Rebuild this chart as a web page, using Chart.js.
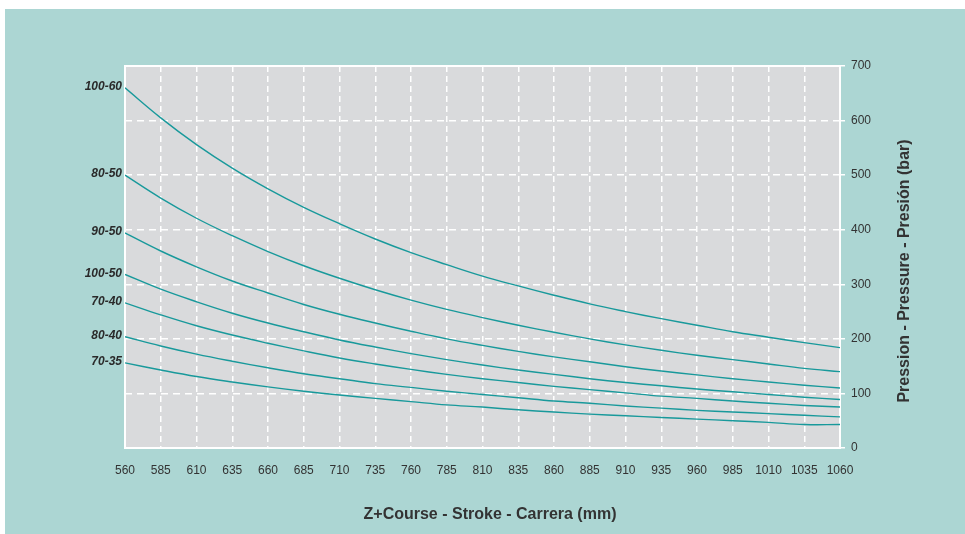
<!DOCTYPE html>
<html>
<head>
<meta charset="utf-8">
<script src="https://cdn.jsdelivr.net/npm/chart.js@4"></script>
<style>
  body { margin: 0; background: #fff; }
  #wrap { width: 965px; height: 534px; position: relative; }
</style>
</head>
<body>
<div id="wrap"><canvas id="canvas"></canvas></div>
<script>
// stroke (mm)
var strokes = [560, 585, 610, 635, 660, 685, 710, 735, 760, 785, 810, 835, 860, 885, 910, 935, 960, 985, 1010, 1035, 1060];

// pressure (bar) per cylinder
var p100_60 = [660, 605, 556, 513, 475, 441, 411, 383, 358, 336, 315, 297, 280, 264, 250, 237, 225, 213, 203, 193, 184];
var p80_50  = [500, 458, 421, 389, 360, 334, 311, 290, 271, 254, 239, 225, 212, 200, 189, 179, 170, 162, 154, 146, 140];
var p90_50  = [394, 361, 332, 306, 284, 263, 245, 229, 214, 200, 188, 177, 167, 158, 149, 141, 134, 127, 121, 115, 110];
var p100_50 = [318, 291, 268, 247, 229, 213, 198, 185, 173, 162, 152, 143, 135, 127, 120, 114, 108, 103, 98, 93, 89];
var p70_40  = [266, 244, 224, 207, 192, 178, 165, 154, 144, 135, 127, 120, 113, 107, 101, 95, 91, 86, 82, 78, 75];
var p80_40  = [204, 187, 172, 159, 147, 136, 127, 118, 111, 104, 98, 92, 86, 82, 77, 73, 69, 66, 63, 60, 57];
var p70_35  = [156, 143, 131, 121, 112, 104, 97, 91, 85, 79, 75, 70, 66, 62, 59, 56, 53, 50, 47, 43, 43];

var names = ['100-60', '80-50', '90-50', '100-50', '70-40', '80-40', '70-35'];
var series = [p100_60, p80_50, p90_50, p100_50, p70_40, p80_40, p70_35];

var yTicks = [0, 100, 200, 300, 400, 500, 600, 700];

var lineColor = '#18999b';
var txt = '#333333';
var fam = '"Liberation Sans", Arial, sans-serif';

var datasets = series.map(function(s, i) {
  return {
    label: names[i],
    data: s.map(function(v, j) { return { x: strokes[j], y: v }; }),
    borderColor: lineColor,
    borderWidth: 1.4,
    pointRadius: 0,
    tension: 0.4,
    fill: false
  };
});

var bgPlugin = {
  id: 'bg',
  beforeDraw: function(chart) {
    var ctx = chart.ctx, a = chart.chartArea;
    ctx.save();
    ctx.fillStyle = '#fff';
    ctx.fillRect(0, 0, chart.width, chart.height);
    ctx.fillStyle = '#acd6d3';
    ctx.fillRect(5, 9, chart.width - 5, chart.height - 9);
    ctx.fillStyle = '#d9dadc';
    ctx.fillRect(a.left, a.top, a.right - a.left, a.bottom - a.top);
    ctx.restore();
  },
  beforeDatasetsDraw: function(chart) {
    var ctx = chart.ctx, a = chart.chartArea;
    ctx.save();
    ctx.strokeStyle = '#fff';
    ctx.lineWidth = 2;
    ctx.strokeRect(a.left, a.top, a.right - a.left, a.bottom - a.top);
    ctx.restore();
  },
  afterDraw: function(chart) {
    var ctx = chart.ctx, a = chart.chartArea;
    var ys = chart.scales.y;
    ctx.save();
    // curve names at the start of each line
    ctx.fillStyle = '#2a2a2a';
    ctx.font = 'italic bold 12px ' + fam;
    ctx.textAlign = 'right';
    ctx.textBaseline = 'middle';
    series.forEach(function(s, i) {
      ctx.fillText(names[i], a.left - 3, ys.getPixelForValue(s[0]) - 1);
    });
    // axis titles
    ctx.fillStyle = txt;
    ctx.font = 'bold 16px ' + fam;
    ctx.textAlign = 'center';
    ctx.fillText('Z+Course - Stroke - Carrera (mm)', 490, 515);
    ctx.translate(905, 271);
    ctx.rotate(-Math.PI / 2);
    ctx.fillText('Pression - Pressure - Presión (bar)', 0, 0);
    ctx.restore();
  }
};

var ctx = document.getElementById('canvas').getContext('2d');
var myChart = new Chart(ctx, {
  type: 'line',
  data: { datasets: datasets },
  plugins: [bgPlugin],
  options: {
    responsive: true,
    maintainAspectRatio: false,
    animation: false,
    layout: { padding: { left: 125, right: 65, top: 66, bottom: 0 } },
    plugins: { legend: { display: false }, tooltip: { enabled: false } },
    scales: {
      x: {
        type: 'linear',
        min: 560,
        max: 1060,
        afterFit: function(s) { s.height = 86; },
        afterBuildTicks: function(s) { s.ticks = strokes.map(function(v) { return { value: v }; }); },
        grid: { color: '#fff', lineWidth: 1.5, drawTicks: false },
        border: { display: false, dash: [6, 4] },
        ticks: {
          padding: 15, color: txt, font: { size: 12, family: fam }, maxRotation: 0, autoSkip: false,
          callback: function(v) { return String(v); }
        }
      },
      y: {
        position: 'right',
        min: 0,
        max: 700,
        afterFit: function(s) { s.width = 60; },
        afterBuildTicks: function(s) { s.ticks = yTicks.map(function(v) { return { value: v }; }); },
        grid: { color: '#fff', lineWidth: 1.5, tickLength: 5, tickColor: '#fff' },
        border: { display: false, dash: [7, 5] },
        ticks: {
          padding: 6, color: txt, font: { size: 12, family: fam },
          callback: function(v) { return String(v); }
        }
      }
    }
  }
});
</script>
</body>
</html>
